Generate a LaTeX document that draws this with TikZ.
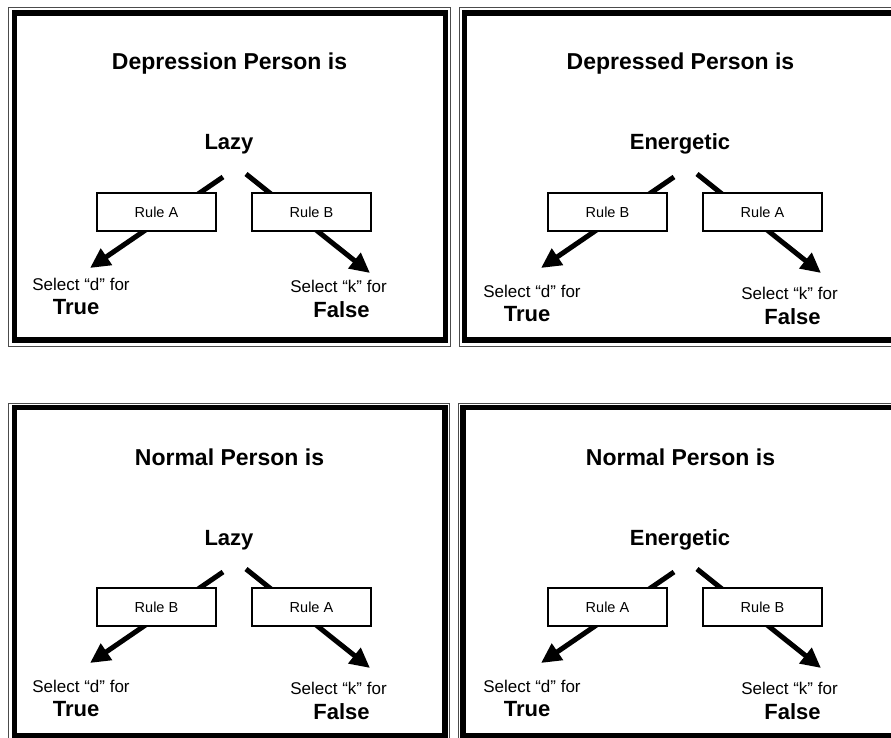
\documentclass[tikz,border=0pt]{standalone}
\usepackage{fontspec}
\setmainfont{Liberation Sans}
\usetikzlibrary{arrows.meta}

\tikzset{
  thinframe/.style={draw=black!70, line width=0.9pt},
  thickframe/.style={draw=black, line width=5.5pt},
  titletext/.style={font=\fontsize{23}{27}\selectfont\bfseries, anchor=base, inner sep=0pt},
  traittext/.style={font=\fontsize{22}{26}\selectfont\bfseries, anchor=base, inner sep=0pt},
  rulebox/.style={draw=black, line width=1.1pt, fill=white, minimum width=119pt,
    minimum height=38pt, inner sep=0pt, font=\fontsize{14.5}{17}\selectfont},
  selecttext/.style={font=\fontsize{17}{20}\selectfont, anchor=base, inner sep=0pt},
  answertext/.style={font=\fontsize{22}{26}\selectfont\bfseries, anchor=base, inner sep=0pt},
  choicearrow/.style={line width=5pt, -{Triangle[length=20pt,width=19pt]}},
}

% #1 name prefix, #2/#3 offset, #4 title, #5 trait, #6 left rule, #7 right rule,
% #8 extra drop of the answer labels
\newcommand{\decisionpanel}[8]{%
  \begin{scope}[shift={(#2,#3)}]
    \node[titletext] (#1title) at (229.5,70) {#4};
    \node[traittext] (#1word) at (229,150) {#5};
    \coordinate (#1ls) at (223,177);
    \coordinate (#1lt) at (90,268);
    \coordinate (#1rs) at (246,174);
    \coordinate (#1rt) at (370,273);
    \draw[choicearrow] (#1ls) -- (#1lt);
    \draw[choicearrow] (#1rs) -- (#1rt);
    \node[rulebox] (#1lrule) at (156.5,212) {#6};
    \node[rulebox] (#1rrule) at (311.5,212) {#7};
    \node[selecttext] (#1lsel) at (81,290+#8) {Select “d” for};
    \node[answertext] (#1ltrue) at (76,314+#8) {True};
    \node[selecttext] (#1rsel) at (338.5,292+#8) {Select “k” for};
    \node[answertext] (#1rfalse) at (341.5,317+#8) {False};
  \end{scope}%
}

\begin{document}
\begin{tikzpicture}[x=1pt,y=-1pt]
  \useasboundingbox (0,0) rectangle (891,738);
  \clip (0,0) rectangle (891,738);
  \fill[white] (0,0) rectangle (891,738);

  % double frames of the four panels
  \draw[thinframe] (8,7) rectangle (450.5,346);
  \draw[thickframe] (14.5,12.8) rectangle (445.5,340);
  \draw[thinframe] (459,7) rectangle (905,346);
  \draw[thickframe] (464.5,12.8) rectangle (900,340);
  \draw[thinframe] (8,403) rectangle (449,743);
  \draw[thickframe] (14.5,407.5) rectangle (445,735.5);
  \draw[thinframe] (458.5,403) rectangle (905,743);
  \draw[thickframe] (463,407.5) rectangle (900,735.5);

  \decisionpanel{tl}{0}{0}{Depression Person is}{Lazy}{Rule A}{Rule B}{0}
  \decisionpanel{tr}{451}{0}{Depressed Person is}{Energetic}{Rule B}{Rule A}{7}
  \decisionpanel{bl}{0}{395}{Normal Person is}{Lazy}{Rule B}{Rule A}{7}
  \decisionpanel{br}{451}{395}{Normal Person is}{Energetic}{Rule A}{Rule B}{7}
\end{tikzpicture}
\end{document}
